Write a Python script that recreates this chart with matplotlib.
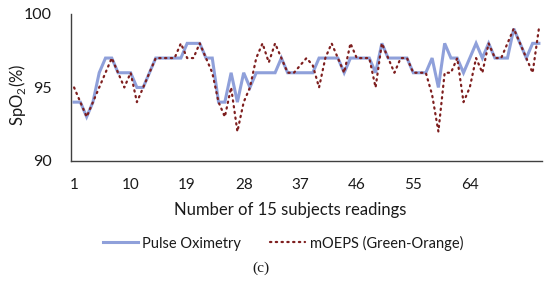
import matplotlib
matplotlib.use("Agg")
import matplotlib.pyplot as plt
from matplotlib.lines import Line2D

# readings 1..75 (15 subjects x 5 readings), SpO2 in %
readings = list(range(1, 76))
pulse_oximetry = [94, 94, 93, 94, 96, 97, 97, 96, 96, 96,
                  95, 95, 96, 97, 97, 97, 97, 97, 98, 98,
                  98, 97, 97, 94, 94, 96, 94, 96, 95, 96,
                  96, 96, 96, 97, 96, 96, 96, 96, 96, 97,
                  97, 97, 97, 96, 97, 97, 97, 97, 96, 98,
                  97, 97, 97, 97, 96, 96, 96, 97, 95, 98,
                  97, 97, 96, 97, 98, 97, 98, 97, 97, 97,
                  99, 98, 97, 98, 98]
moeps = [95, 94, 93, 94, 95, 96, 97, 96, 95, 96,
         94, 95, 96, 97, 97, 97, 97, 98, 97, 97,
         98, 97, 96, 94, 93, 95, 92, 94, 95, 97,
         98, 96.7, 98, 97, 96, 96, 96.5, 97, 96.5, 95,
         97, 98, 97, 96, 98, 97, 97, 97, 95, 98,
         97, 96, 97, 97, 96, 96, 96, 94.5, 92, 96,
         96, 97, 94, 95, 97, 96, 98, 97, 97, 98,
         99, 98, 97, 96, 99]
x_ticks = [1, 10, 19, 28, 37, 46, 55, 64]
y_ticks = [90, 95, 100]
series_names = ["Pulse Oximetry", "mOEPS (Green-Orange)"]

plt.rcParams['font.family'] = ['Lato', 'DejaVu Sans']
plt.rcParams['mathtext.fontset'] = 'custom'
plt.rcParams['mathtext.rm'] = 'Lato'

blue = "#8FA0DA"
red = "#7E1E1E"
txt = "#1a1a1a"

fig = plt.figure(figsize=(5.5, 2.91), dpi=100)
ax = fig.add_axes([0.129, 0.447, 0.8565, 0.505])

ax.plot(readings, pulse_oximetry, color=blue, lw=2.2, solid_joinstyle="miter")
ax.plot(readings, moeps, color=red, lw=1.6, linestyle=(0, (0.6, 2.0)),
        dash_capstyle="round")

ax.set_xlim(0.5, len(readings) + 0.5)
ax.set_ylim(90, 100)
ax.set_xticks(x_ticks)
ax.set_yticks(y_ticks)
ax.tick_params(axis="x", length=0, pad=12, labelsize=11, labelcolor=txt)
ax.tick_params(axis="y", length=0, pad=14, labelsize=11.5, labelcolor=txt)

for s in ["top", "right"]:
    ax.spines[s].set_visible(False)
ax.spines["left"].set_color("#404040")
ax.spines["bottom"].set_color("#404040")
ax.spines["left"].set_linewidth(1.0)
ax.spines["bottom"].set_linewidth(1.0)

fig.text(17 / 550, 1 - 95 / 291, "SpO$_2$(%)", rotation=90, ha="center",
         va="center", fontsize=12, color=txt)
fig.text(290 / 550, 1 - 210 / 291, "Number of 15 subjects readings",
         ha="center", va="center", fontsize=12, color=txt)

handles = [Line2D([], [], color=blue, lw=2.2),
           Line2D([], [], color=red, lw=1.6, linestyle=(0, (0.6, 2.0)),
                  dash_capstyle="round")]
fig.legend(handles, series_names, loc="center", ncol=2,
           bbox_to_anchor=(283 / 550, 1 - 243 / 291), frameon=False,
           fontsize=10.5, handlelength=2.4, handletextpad=0.3,
           columnspacing=2.0, labelcolor=txt)

fig.text(261 / 550, 1 - 268 / 291, "(c)", ha="center", va="center",
         fontsize=11, family="Liberation Serif", color=txt)

fig.savefig("out.png", dpi=100)
